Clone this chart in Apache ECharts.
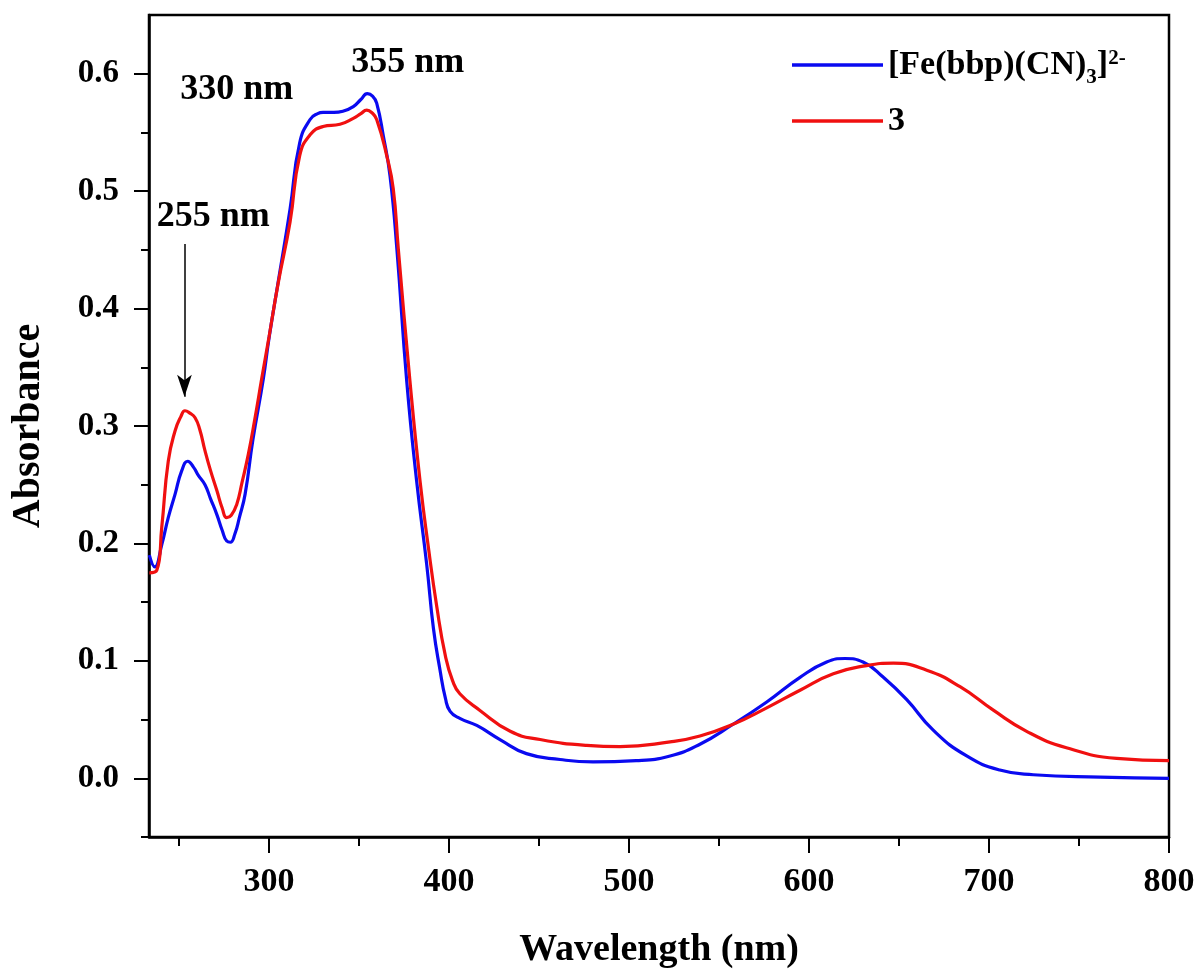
<!DOCTYPE html>
<html>
<head>
<meta charset="utf-8">
<title>UV-Vis spectra</title>
<script src="https://cdn.jsdelivr.net/npm/echarts@6/dist/echarts.min.js"></script>
<style>
  html, body { margin: 0; padding: 0; background: #fff; }
  #chart { width: 1202px; height: 974px; }
</style>
</head>
<body>
<div id="chart"></div>
<script>
// spectra (wavelength in nm, absorbance)
const blueNm = [233.5, 236.5, 240.4, 244, 247.8, 251.5, 254.8, 258, 260.7, 264.4, 267.5, 270.9, 274, 276.5, 278.5, 281, 283.5, 286.7, 291, 296.8, 300, 305, 311.7, 317, 322.8, 327, 330, 336, 341, 346.8, 351, 354.6, 357.5, 359.8, 363.5, 367.2, 371, 376.5, 382, 387.6, 391.3, 395, 398, 400.6, 406, 415.4, 428.3, 443, 461.7, 480, 504, 522.8, 539.4, 557.8, 576.5, 595, 609.8, 620, 630, 641.3, 654.3, 669, 687.6, 706, 724.6, 761.7, 800];
const blueAbs = [0.190, 0.180, 0.199, 0.222, 0.242, 0.262, 0.270, 0.265, 0.258, 0.250, 0.238, 0.225, 0.211, 0.202, 0.201, 0.208, 0.222, 0.242, 0.288, 0.340, 0.375, 0.422, 0.485, 0.541, 0.561, 0.566, 0.567, 0.567, 0.568, 0.572, 0.578, 0.583, 0.581, 0.575, 0.547, 0.513, 0.451, 0.338, 0.253, 0.182, 0.128, 0.092, 0.068, 0.057, 0.051, 0.045, 0.033, 0.021, 0.016, 0.014, 0.015, 0.019, 0.029, 0.046, 0.065, 0.086, 0.099, 0.102, 0.099, 0.086, 0.067, 0.041, 0.019, 0.007, 0.003, 0.001, 0.000];

const redNm = [233.5, 237.6, 240.4, 244, 247.8, 251, 253.3, 256, 258.9, 261.5, 264.4, 267.5, 271, 274, 276.5, 279, 282, 285, 288.5, 292, 296, 300, 305, 311.7, 317, 322.8, 330, 339.4, 346.8, 351, 354.3, 357, 359.8, 365.4, 369, 371.8, 378.3, 383.9, 388.5, 393.2, 398, 402, 406, 417, 434, 450.6, 476.5, 495, 522.8, 539.4, 557.8, 576.5, 595, 613.5, 632, 646.9, 665.4, 683.9, 702.4, 720.9, 743, 770.9, 800];
const redAbs = [0.175, 0.177, 0.214, 0.270, 0.296, 0.308, 0.313, 0.311, 0.307, 0.297, 0.279, 0.262, 0.245, 0.230, 0.222, 0.224, 0.233, 0.252, 0.276, 0.305, 0.341, 0.376, 0.421, 0.474, 0.530, 0.548, 0.555, 0.557, 0.562, 0.566, 0.569, 0.567, 0.561, 0.530, 0.502, 0.451, 0.338, 0.253, 0.197, 0.146, 0.104, 0.083, 0.072, 0.058, 0.040, 0.033, 0.028, 0.027, 0.031, 0.036, 0.046, 0.060, 0.075, 0.089, 0.096, 0.098, 0.092, 0.078, 0.058, 0.040, 0.026, 0.017, 0.015];

const xTicks = [300, 400, 500, 600, 700, 800];
const xMinorTicks = [250, 350, 450, 550, 650, 750];
const yTicks = [0, 0.1, 0.2, 0.3, 0.4, 0.5, 0.6];
const yMinorTicks = [-0.05, 0.05, 0.15, 0.25, 0.35, 0.45, 0.55];

// peak annotations
const noteNm = [282, 377, 269];
const noteAbs = [0.586, 0.609, 0.478];
const noteText = ['330 nm', '355 nm', '255 nm'];
const arrowNm = 253;
const arrowFrom = 0.455;
const arrowTo = 0.325;

const FONT = 'Liberation Serif';
const X_MIN = 233.3, X_MAX = 800, Y_MIN = -0.05, Y_MAX = 0.65;

const zip = (xs, ys) => xs.map((x, i) => [x, ys[i]]);

let chart = echarts.init(document.getElementById('chart'), null, { renderer: 'canvas' });

const axisLineStyle = { color: '#000', width: 2.5 };
const tickStyle = { color: '#000', width: 2 };

let option = {
    animation: false,
    backgroundColor: '#fff',
    grid: {
        left: 149, right: 33, top: 15, bottom: 133,
        show: true, borderColor: '#000', borderWidth: 2.5, backgroundColor: 'transparent'
    },
    legend: {
        orient: 'vertical',
        left: 787, top: 37,
        icon: 'rect',
        itemWidth: 91, itemHeight: 3.5, itemGap: 16,
        data: ['[Fe(bbp)(CN)3]2-', '3'],
        formatter: name => name === '3'
            ? '{n|3}'
            : '{n|[Fe(bbp)(CN)}{sub|3}{n|]}{sup|2-}',
        textStyle: {
            color: '#000', fontFamily: FONT, fontWeight: 'bold', fontSize: 34,
            rich: {
                n: { fontFamily: FONT, fontWeight: 'bold', fontSize: 34, lineHeight: 46, color: '#000' },
                sub: { fontFamily: FONT, fontWeight: 'bold', fontSize: 21, lineHeight: 20, verticalAlign: 'bottom', color: '#000' },
                sup: { fontFamily: FONT, fontWeight: 'bold', fontSize: 21, lineHeight: 20, verticalAlign: 'top', padding: [6, 0, 0, 0], color: '#000' }
            }
        }
    },
    xAxis: [{
        type: 'value', min: X_MIN, max: X_MAX, position: 'bottom',
        name: 'Wavelength (nm)', nameLocation: 'middle', nameGap: 94,
        nameTextStyle: { fontFamily: FONT, fontWeight: 'bold', fontSize: 38, color: '#000' },
        axisLine: { show: true, onZero: false, lineStyle: axisLineStyle },
        axisTick: { show: true, customValues: xTicks, length: 16, lineStyle: tickStyle },
        axisLabel: {
            customValues: xTicks, margin: 28, color: '#000',
            fontFamily: FONT, fontWeight: 'bold', fontSize: 34
        },
        splitLine: { show: false }
    }, {
        // minor ticks
        type: 'value', min: X_MIN, max: X_MAX, position: 'bottom',
        axisLine: { show: false, onZero: false },
        axisTick: { show: true, customValues: xMinorTicks, length: 9, lineStyle: tickStyle },
        axisLabel: { show: false },
        splitLine: { show: false }
    }],
    yAxis: [{
        type: 'value', min: Y_MIN, max: Y_MAX, position: 'left',
        name: 'Absorbance', nameLocation: 'middle', nameGap: 100,
        nameTextStyle: { fontFamily: FONT, fontWeight: 'bold', fontSize: 40, color: '#000' },
        axisLine: { show: true, onZero: false, lineStyle: axisLineStyle },
        axisTick: { show: true, customValues: yTicks, length: 15, lineStyle: tickStyle },
        axisLabel: {
            customValues: yTicks, margin: 30, color: '#000',
            fontFamily: FONT, fontWeight: 'bold', fontSize: 33,
            formatter: v => v.toFixed(1)
        },
        splitLine: { show: false }
    }, {
        type: 'value', min: Y_MIN, max: Y_MAX, position: 'left',
        axisLine: { show: false, onZero: false },
        axisTick: { show: true, customValues: yMinorTicks, length: 8, lineStyle: tickStyle },
        axisLabel: { show: false },
        splitLine: { show: false }
    }],
    series: [{
        name: '[Fe(bbp)(CN)3]2-',
        type: 'line',
        data: zip(blueNm, blueAbs),
        symbol: 'none',
        smooth: 0.5,
        lineStyle: { color: '#0a0af0', width: 3.2 },
        itemStyle: { color: '#0a0af0' },
        z: 3
    }, {
        name: '3',
        type: 'line',
        data: zip(redNm, redAbs),
        symbol: 'none',
        smooth: 0.5,
        lineStyle: { color: '#f01010', width: 3.2 },
        itemStyle: { color: '#f01010' },
        z: 4
    }, {
        name: 'notes',
        type: 'scatter',
        data: noteNm.map((x, i) => [x, noteAbs[i], noteText[i]]),
        symbolSize: 0,
        itemStyle: { color: '#000', opacity: 1 },
        label: {
            show: true, position: 'inside', opacity: 1,
            formatter: p => p.value[2],
            color: '#000', fontFamily: FONT, fontWeight: 'bold', fontSize: 36
        },
        silent: true,
        markLine: {
            silent: true,
            symbol: ['none', 'arrow'],
            symbolSize: [11, 22],
            lineStyle: { color: '#000', width: 1.5, type: 'solid', opacity: 1 },
            label: { show: false },
            data: [[{ coord: [arrowNm, arrowFrom] }, { coord: [arrowNm, arrowTo] }]]
        }
    }]
};

chart.setOption(option);
</script>
</body>
</html>
